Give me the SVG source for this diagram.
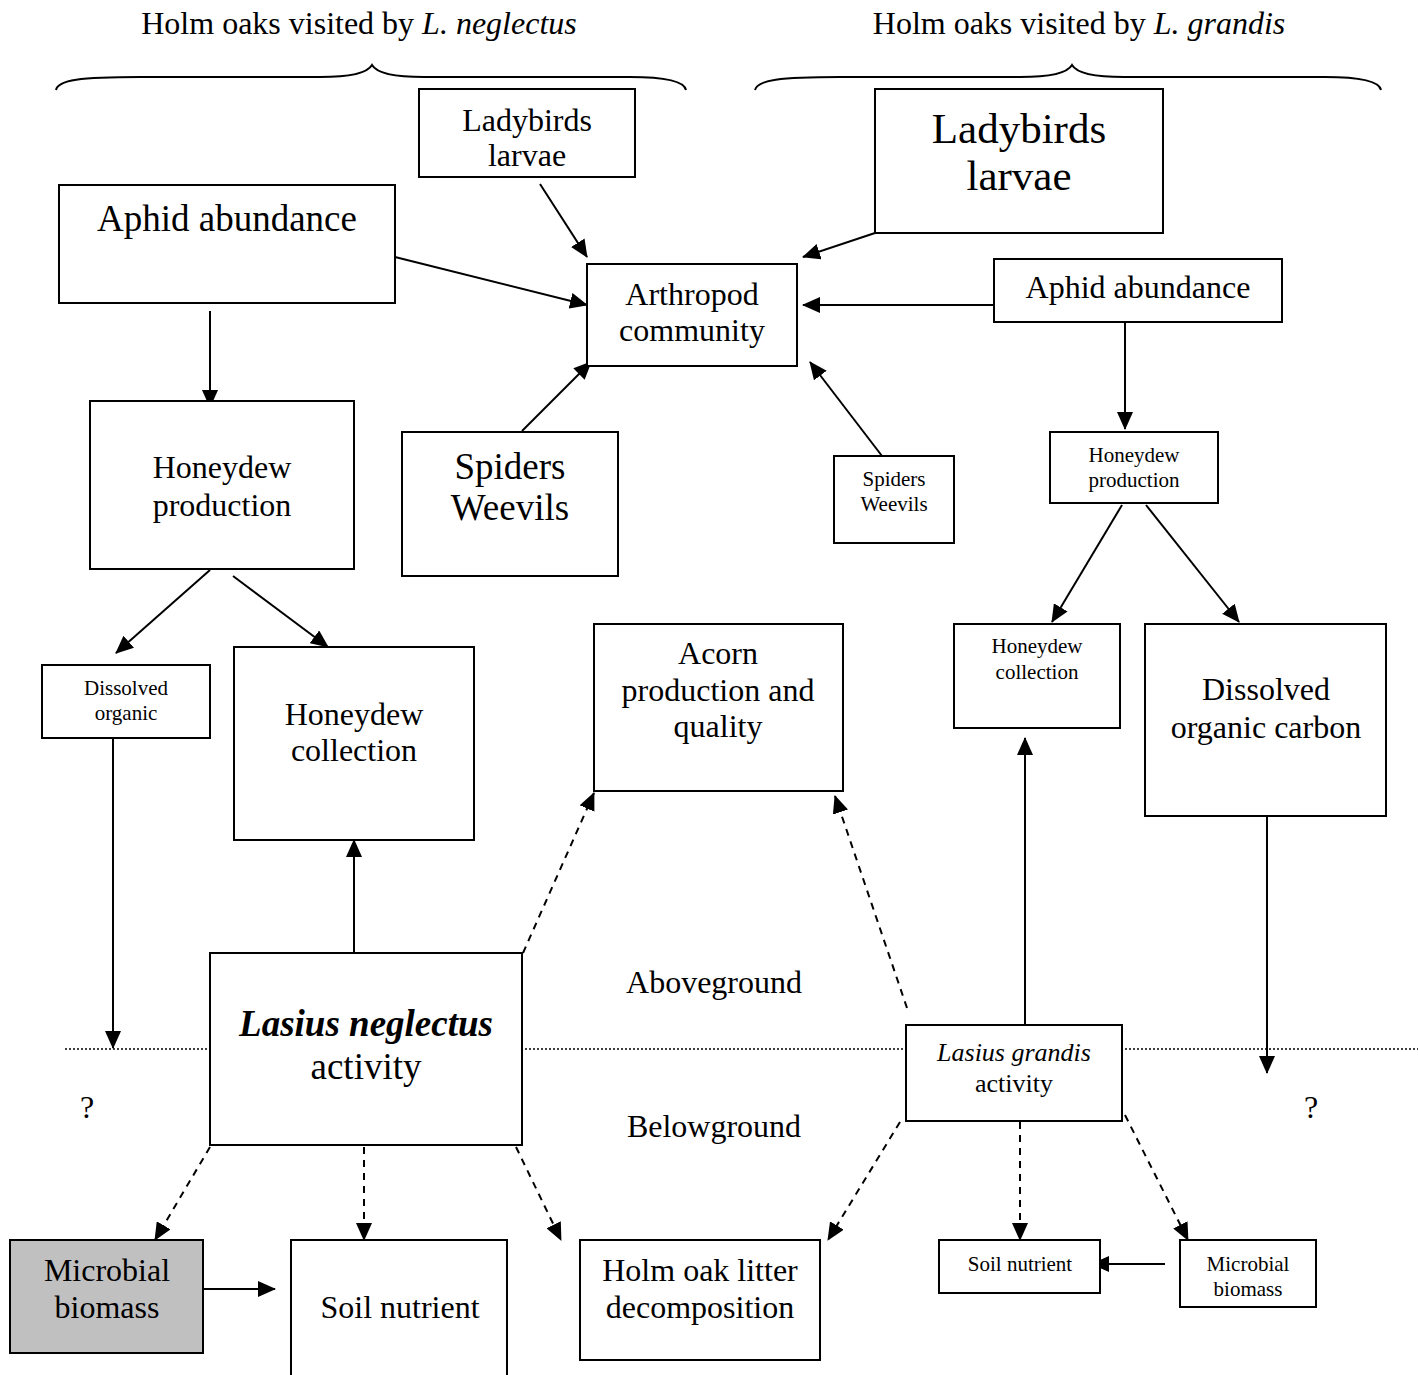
<svg xmlns="http://www.w3.org/2000/svg" width="1418" height="1375" viewBox="0 0 1418 1375">
<style>
text{font-family:"Liberation Serif","Times New Roman",serif;fill:#000;text-anchor:middle}
.box{fill:#fff;stroke:#000;stroke-width:2}
.gray{fill:#c0c0c0;stroke:#000;stroke-width:2}
.c{fill:none;stroke:#000;stroke-width:2}
.d{fill:none;stroke:#000;stroke-width:2;stroke-dasharray:7,6}
.s21{font-size:21px}.s26{font-size:26px}.s32{font-size:32px}.s37{font-size:37px}.s43{font-size:43px}
</style>
<defs>
<marker id="ah" markerWidth="18" markerHeight="16" refX="17" refY="8" orient="auto" markerUnits="userSpaceOnUse">
<path d="M0,0 L18,8 L0,16 Z" fill="#000"/>
</marker>
</defs>
<rect width="1418" height="1375" fill="#fff"/>
<g id="titles">
<text x="359" y="34" class="s32">Holm oaks visited by <tspan font-style="italic">L. neglectus</tspan></text>
<text x="1079" y="34" class="s32">Holm oaks visited by <tspan font-style="italic">L. grandis</tspan></text>
<path class="c" d="M56,90 C58,80 80,77 140,77 L320,77 C355,77 368,72 372,65 C376,72 389,77 424,77 L630,77 C660,77 684,80 686,90"/>
<path class="c" d="M755,90 C757,80 780,77 840,77 L1020,77 C1055,77 1068,72 1072,65 C1076,72 1089,77 1124,77 L1325,77 C1355,77 1379,80 1381,90"/>
</g>
<line x1="65" y1="1049" x2="1418" y2="1049" stroke="#000" stroke-width="1.5" stroke-dasharray="2,2"/>
<g id="connectors">
<line class="c" x1="540" y1="184" x2="587" y2="257" marker-end="url(#ah)"/>
<line class="c" x1="395" y1="257" x2="587" y2="305" marker-end="url(#ah)"/>
<line class="c" x1="875" y1="233" x2="803" y2="257" marker-end="url(#ah)"/>
<line class="c" x1="994" y1="305" x2="803" y2="305" marker-end="url(#ah)"/>
<line class="c" x1="522" y1="431" x2="591" y2="362" marker-end="url(#ah)"/>
<line class="c" x1="882" y1="456" x2="810" y2="362" marker-end="url(#ah)"/>
<line class="c" x1="210" y1="311" x2="210" y2="407" marker-end="url(#ah)"/>
<line class="c" x1="210" y1="570" x2="116" y2="653" marker-end="url(#ah)"/>
<line class="c" x1="233" y1="576" x2="328" y2="647" marker-end="url(#ah)"/>
<line class="c" x1="113" y1="738" x2="113" y2="1048" marker-end="url(#ah)"/>
<line class="c" x1="354" y1="953" x2="354" y2="840" marker-end="url(#ah)"/>
<line class="d" x1="523" y1="953" x2="594" y2="793" marker-end="url(#ah)"/>
<line class="d" x1="907" y1="1008" x2="835" y2="796" marker-end="url(#ah)"/>
<line class="c" x1="1125" y1="312" x2="1125" y2="429" marker-end="url(#ah)"/>
<line class="c" x1="1122" y1="505" x2="1052" y2="622" marker-end="url(#ah)"/>
<line class="c" x1="1146" y1="505" x2="1239" y2="622" marker-end="url(#ah)"/>
<line class="c" x1="1025" y1="1025" x2="1025" y2="738" marker-end="url(#ah)"/>
<line class="c" x1="1267" y1="816" x2="1267" y2="1073" marker-end="url(#ah)"/>
<line class="d" x1="210" y1="1147" x2="155" y2="1240" marker-end="url(#ah)"/>
<line class="d" x1="364" y1="1147" x2="364" y2="1240" marker-end="url(#ah)"/>
<line class="d" x1="516" y1="1147" x2="561" y2="1240" marker-end="url(#ah)"/>
<line class="c" x1="203" y1="1289" x2="275" y2="1289" marker-end="url(#ah)"/>
<line class="d" x1="900" y1="1122" x2="828" y2="1240" marker-end="url(#ah)"/>
<line class="d" x1="1020" y1="1122" x2="1020" y2="1240" marker-end="url(#ah)"/>
<line class="d" x1="1125" y1="1115" x2="1188" y2="1240" marker-end="url(#ah)"/>
<line class="c" x1="1165" y1="1264" x2="1092" y2="1264" marker-end="url(#ah)"/>
</g>
<g id="ladybirds-left"><rect class="box" x="419" y="89" width="216" height="88"/><text x="527" y="131" class="s32">Ladybirds</text><text x="527" y="166" class="s32">larvae</text></g>
<g id="aphid-left"><rect class="box" x="59" y="185" width="336" height="118"/><text x="227" y="231" class="s37">Aphid abundance</text></g>
<g id="arthropod"><rect class="box" x="587" y="264" width="210" height="102"/><text x="692" y="305" class="s32">Arthropod</text><text x="692" y="341" class="s32">community</text></g>
<g id="ladybirds-right"><rect class="box" x="875" y="89" width="288" height="144"/><text x="1019" y="143" class="s43">Ladybirds</text><text x="1019" y="190" class="s43">larvae</text></g>
<g id="aphid-right"><rect class="box" x="994" y="259" width="288" height="63"/><text x="1138" y="298" class="s32">Aphid abundance</text></g>
<g id="honeydew-prod-left"><rect class="box" x="90" y="401" width="264" height="168"/><text x="222" y="478" class="s32">Honeydew</text><text x="222" y="516" class="s32">production</text></g>
<g id="spiders-left"><rect class="box" x="402" y="432" width="216" height="144"/><text x="510" y="479" class="s37">Spiders</text><text x="510" y="520" class="s37">Weevils</text></g>
<g id="spiders-right"><rect class="box" x="834" y="456" width="120" height="87"/><text x="894" y="486" class="s21">Spiders</text><text x="894" y="511" class="s21">Weevils</text></g>
<g id="honeydew-prod-right"><rect class="box" x="1050" y="432" width="168" height="71"/><text x="1134" y="462" class="s21">Honeydew</text><text x="1134" y="487" class="s21">production</text></g>
<g id="dissolved-left"><rect class="box" x="42" y="665" width="168" height="73"/><text x="126" y="695" class="s21">Dissolved</text><text x="126" y="720" class="s21">organic</text></g>
<g id="honeydew-coll-left"><rect class="box" x="234" y="647" width="240" height="193"/><text x="354" y="725" class="s32">Honeydew</text><text x="354" y="761" class="s32">collection</text></g>
<g id="acorn"><rect class="box" x="594" y="624" width="249" height="167"/><text x="718" y="664" class="s32">Acorn</text><text x="718" y="701" class="s32">production and</text><text x="718" y="737" class="s32">quality</text></g>
<g id="honeydew-coll-right"><rect class="box" x="954" y="624" width="166" height="104"/><text x="1037" y="653" class="s21">Honeydew</text><text x="1037" y="679" class="s21">collection</text></g>
<g id="dissolved-right"><rect class="box" x="1145" y="624" width="241" height="192"/><text x="1266" y="700" class="s32">Dissolved</text><text x="1266" y="738" class="s32">organic carbon</text></g>
<g id="lasius-neglectus"><rect class="box" x="210" y="953" width="312" height="192"/><text x="366" y="1036" class="s37" font-weight="bold" font-style="italic">Lasius neglectus</text><text x="366" y="1079" class="s37">activity</text></g>
<g id="lasius-grandis"><rect class="box" x="906" y="1025" width="216" height="96"/><text x="1014" y="1061" class="s26" font-style="italic">Lasius grandis</text><text x="1014" y="1092" class="s26">activity</text></g>
<g id="microbial-left"><rect class="gray" x="10" y="1240" width="193" height="113"/><text x="107" y="1281" class="s32">Microbial</text><text x="107" y="1318" class="s32">biomass</text></g>
<g id="soil-left"><rect class="box" x="291" y="1240" width="216" height="140"/><text x="400" y="1318" class="s32">Soil nutrient</text></g>
<g id="litter"><rect class="box" x="580" y="1240" width="240" height="120"/><text x="700" y="1281" class="s32">Holm oak litter</text><text x="700" y="1318" class="s32">decomposition</text></g>
<g id="soil-right"><rect class="box" x="939" y="1240" width="161" height="53"/><text x="1020" y="1271" class="s21">Soil nutrient</text></g>
<g id="microbial-right"><rect class="box" x="1180" y="1240" width="136" height="67"/><text x="1248" y="1271" class="s21">Microbial</text><text x="1248" y="1296" class="s21">biomass</text></g>
<g id="labels">
<text x="714" y="993" class="s32">Aboveground</text>
<text x="714" y="1137" class="s32">Belowground</text>
<text x="87" y="1118" class="s32">?</text>
<text x="1311" y="1118" class="s32">?</text>
</g>
</svg>
